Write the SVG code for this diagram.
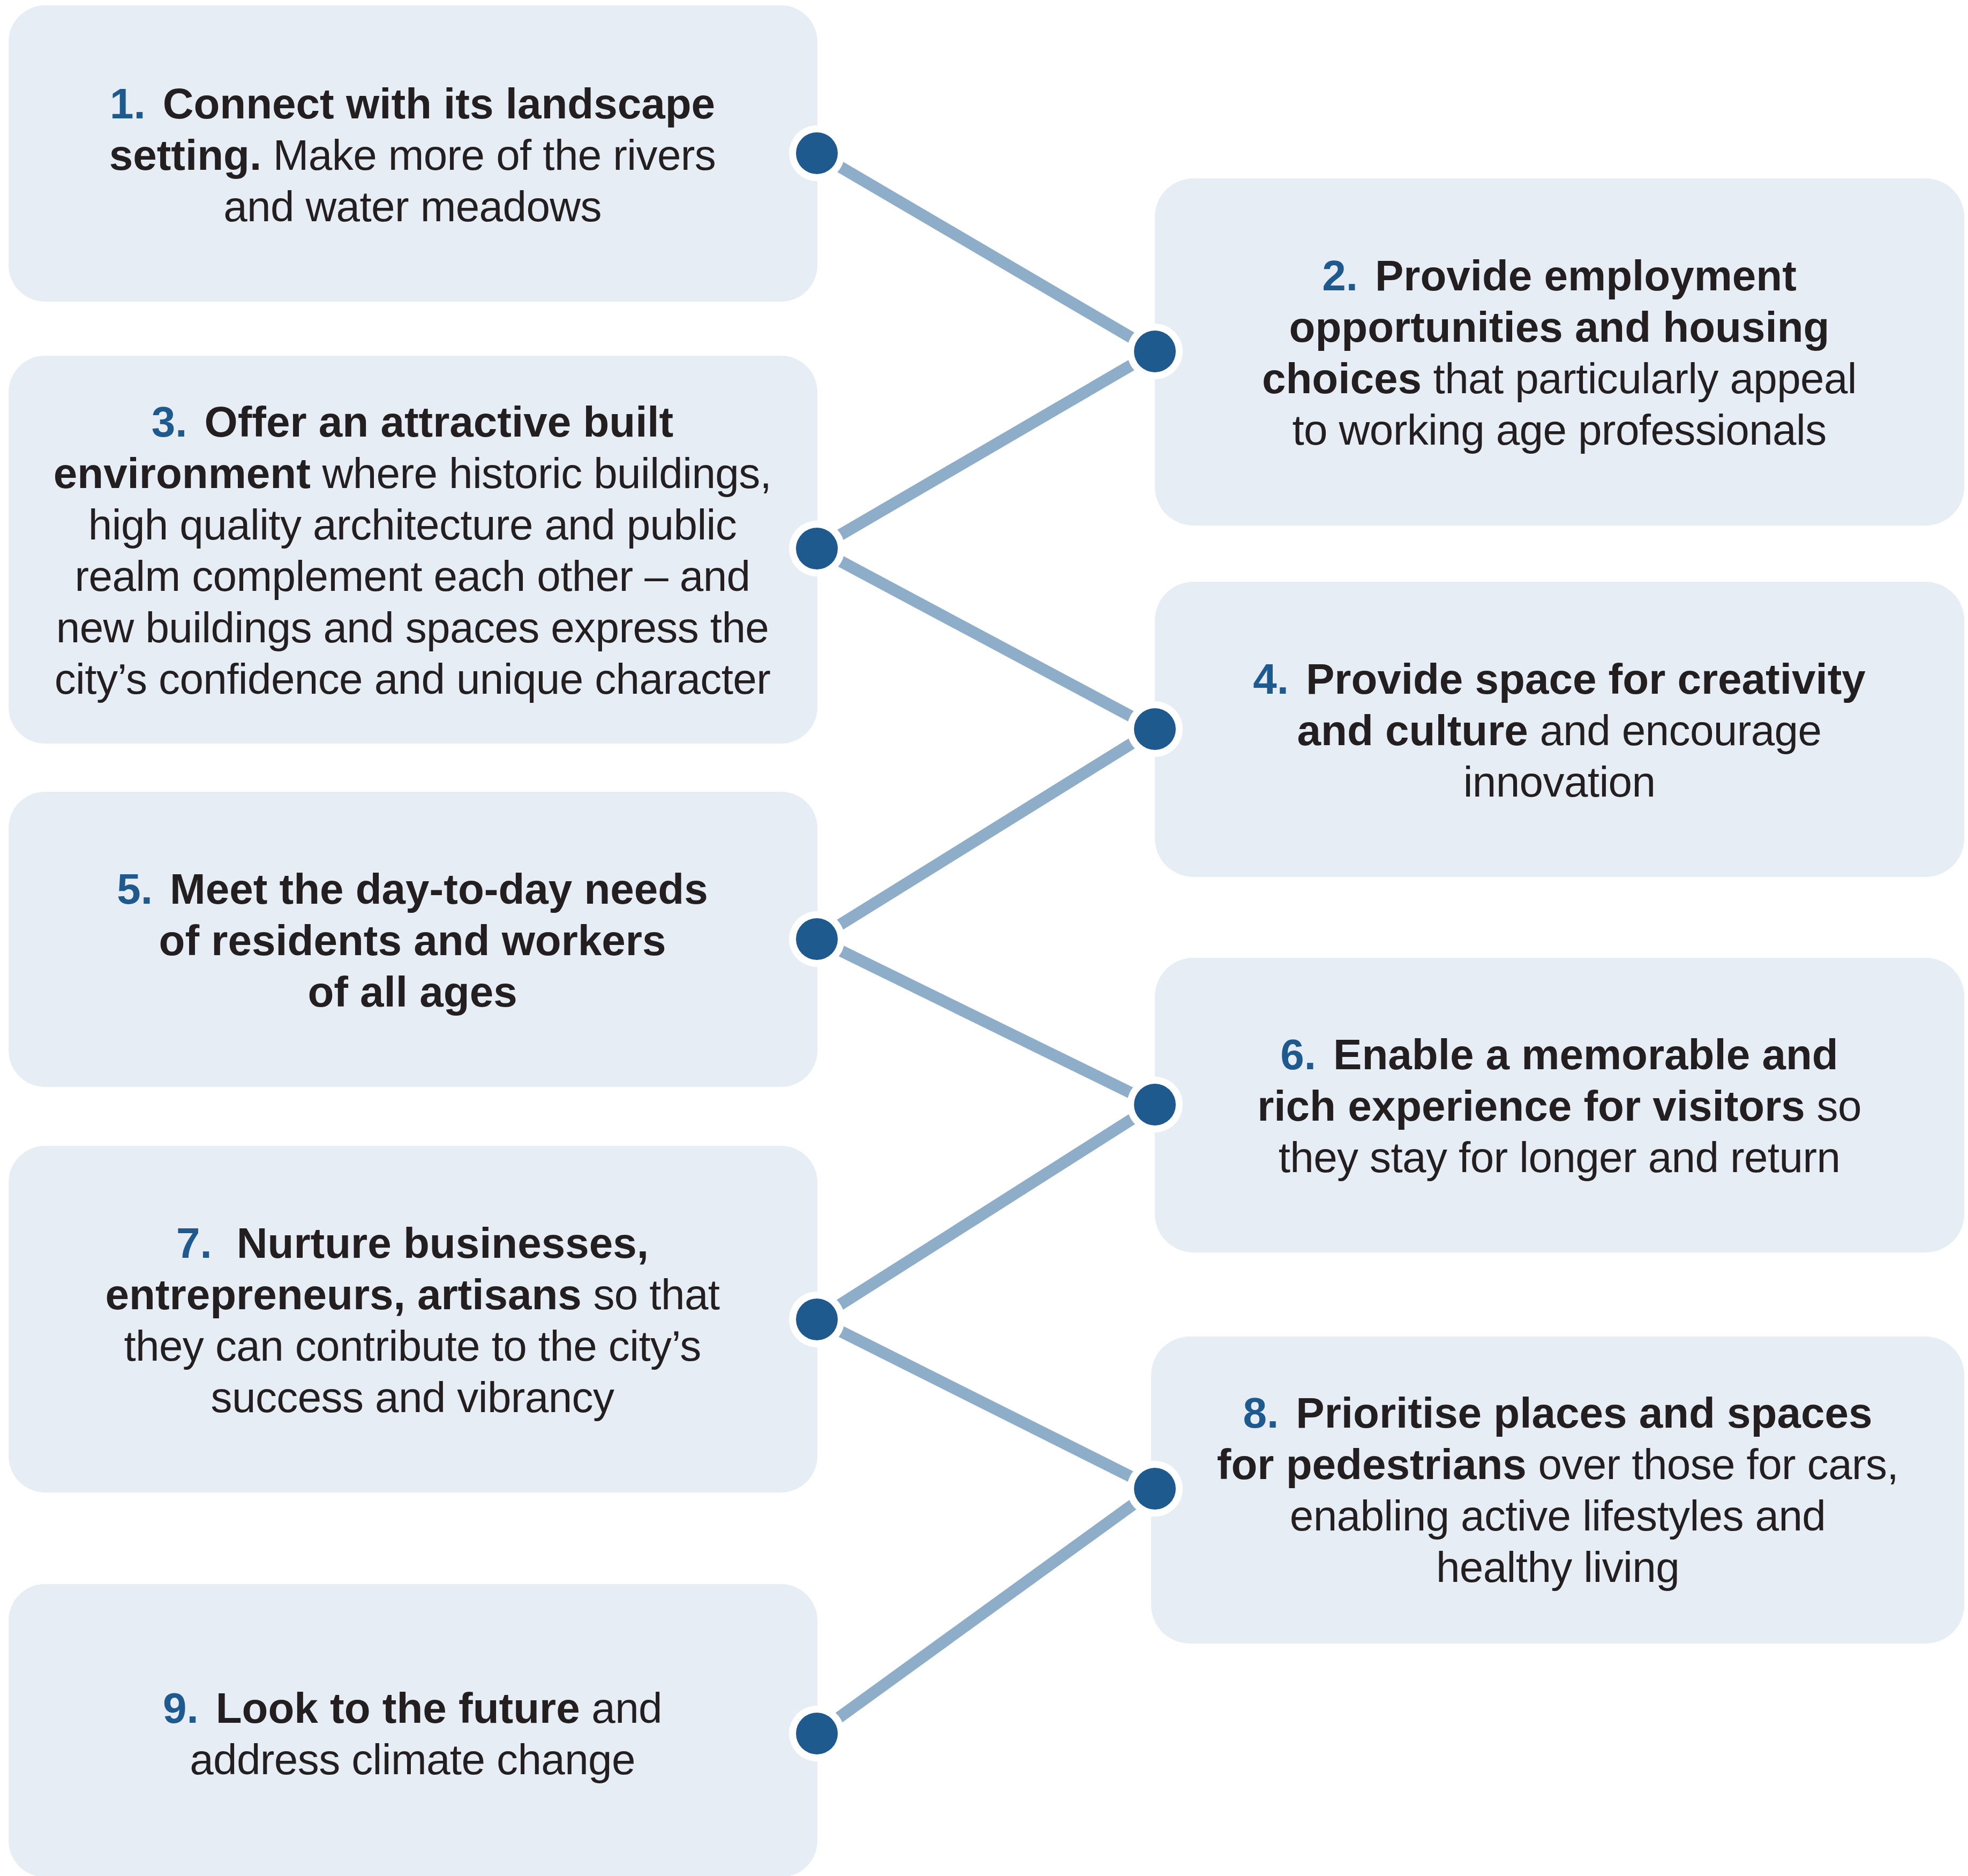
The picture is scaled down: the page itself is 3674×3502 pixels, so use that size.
<svg xmlns="http://www.w3.org/2000/svg" width="3674" height="3502" viewBox="0 0 3674 3502">
<style>
.box{fill:#e7edf4}
.t{font-family:"Liberation Sans",Arial,sans-serif;font-size:80px;fill:#231f20;text-anchor:middle;letter-spacing:-0.6px}
.b{font-weight:bold;letter-spacing:0}
.n{font-weight:bold;fill:#1f5a8f;letter-spacing:0}
.ring{fill:#ffffff}
.dot{fill:#1f5a8f}
.c{stroke:#8eadc9;stroke-width:22;fill:none}
</style>
<rect width="3674" height="3502" fill="#ffffff"/>
<g id="connectors">
<line class="c" x1="1525" y1="286" x2="2156" y2="656"/>
<line class="c" x1="2156" y1="656" x2="1525" y2="1024"/>
<line class="c" x1="1525" y1="1024" x2="2156" y2="1361"/>
<line class="c" x1="2156" y1="1361" x2="1525" y2="1753"/>
<line class="c" x1="1525" y1="1753" x2="2156" y2="2062"/>
<line class="c" x1="2156" y1="2062" x2="1525" y2="2463"/>
<line class="c" x1="1525" y1="2463" x2="2156" y2="2779"/>
<line class="c" x1="2156" y1="2779" x2="1525" y2="3236"/>
</g>
<g id="node1">
<rect class="box" x="16" y="10" width="1510" height="553" rx="68"/>
<circle class="ring" cx="1525" cy="286" r="52"/><circle class="dot" cx="1525" cy="286" r="39"/>
<text class="t" y="221" x="770"><tspan class="n">1.</tspan><tspan class="b" dx="32">Connect with its landscape</tspan></text>
<text class="t" y="317" x="770"><tspan class="b">setting.</tspan> Make more of the rivers</text>
<text class="t" y="413" x="770">and water meadows</text>
</g>
<g id="node2">
<rect class="box" x="2156" y="333" width="1511" height="648" rx="72"/>
<circle class="ring" cx="2156" cy="656" r="52"/><circle class="dot" cx="2156" cy="656" r="39"/>
<text class="t" y="542" x="2911"><tspan class="n">2.</tspan><tspan class="b" dx="32">Provide employment</tspan></text>
<text class="t b" y="638" x="2911">opportunities and housing</text>
<text class="t" y="734" x="2911"><tspan class="b">choices</tspan> that particularly appeal</text>
<text class="t" y="830" x="2911">to working age professionals</text>
</g>
<g id="node3">
<rect class="box" x="16" y="664" width="1510" height="724" rx="68"/>
<circle class="ring" cx="1525" cy="1024" r="52"/><circle class="dot" cx="1525" cy="1024" r="39"/>
<text class="t" y="815" x="770"><tspan class="n">3.</tspan><tspan class="b" dx="32">Offer an attractive built</tspan></text>
<text class="t" y="911" x="770"><tspan class="b">environment</tspan> where historic buildings,</text>
<text class="t" y="1007" x="770">high quality architecture and public</text>
<text class="t" y="1103" x="770">realm complement each other – and</text>
<text class="t" y="1199" x="770">new buildings and spaces express the</text>
<text class="t" y="1295" x="770">city’s confidence and unique character</text>
</g>
<g id="node4">
<rect class="box" x="2156" y="1086" width="1511" height="551" rx="72"/>
<circle class="ring" cx="2156" cy="1361" r="52"/><circle class="dot" cx="2156" cy="1361" r="39"/>
<text class="t" y="1295" x="2911"><tspan class="n">4.</tspan><tspan class="b" dx="32">Provide space for creativity</tspan></text>
<text class="t" y="1391" x="2911"><tspan class="b">and culture</tspan> and encourage</text>
<text class="t" y="1487" x="2911">innovation</text>
</g>
<g id="node5">
<rect class="box" x="16" y="1478" width="1510" height="551" rx="68"/>
<circle class="ring" cx="1525" cy="1753" r="52"/><circle class="dot" cx="1525" cy="1753" r="39"/>
<text class="t" y="1687" x="770"><tspan class="n">5.</tspan><tspan class="b" dx="32">Meet the day-to-day needs</tspan></text>
<text class="t b" y="1783" x="770">of residents and workers</text>
<text class="t b" y="1879" x="770">of all ages</text>
</g>
<g id="node6">
<rect class="box" x="2156" y="1788" width="1511" height="550" rx="72"/>
<circle class="ring" cx="2156" cy="2062" r="52"/><circle class="dot" cx="2156" cy="2062" r="39"/>
<text class="t" y="1996" x="2911"><tspan class="n">6.</tspan><tspan class="b" dx="32">Enable a memorable and</tspan></text>
<text class="t" y="2092" x="2911"><tspan class="b">rich experience for visitors</tspan> so</text>
<text class="t" y="2188" x="2911">they stay for longer and return</text>
</g>
<g id="node7">
<rect class="box" x="16" y="2139" width="1510" height="647" rx="68"/>
<circle class="ring" cx="1525" cy="2463" r="52"/><circle class="dot" cx="1525" cy="2463" r="39"/>
<text class="t" y="2348" x="770"><tspan class="n">7.</tspan><tspan class="b" dx="46">Nurture businesses,</tspan></text>
<text class="t" y="2444" x="770"><tspan class="b">entrepreneurs, artisans</tspan> so that</text>
<text class="t" y="2540" x="770">they can contribute to the city’s</text>
<text class="t" y="2636" x="770">success and vibrancy</text>
</g>
<g id="node8">
<rect class="box" x="2149" y="2495" width="1518" height="573" rx="72"/>
<circle class="ring" cx="2156" cy="2779" r="52"/><circle class="dot" cx="2156" cy="2779" r="39"/>
<text class="t" y="2665" x="2908"><tspan class="n">8.</tspan><tspan class="b" dx="32">Prioritise places and spaces</tspan></text>
<text class="t" y="2761" x="2908"><tspan class="b">for pedestrians</tspan> over those for cars,</text>
<text class="t" y="2857" x="2908">enabling active lifestyles and</text>
<text class="t" y="2953" x="2908">healthy living</text>
</g>
<g id="node9">
<rect class="box" x="16" y="2957" width="1510" height="547" rx="68"/>
<circle class="ring" cx="1525" cy="3236" r="52"/><circle class="dot" cx="1525" cy="3236" r="39"/>
<text class="t" y="3216" x="770"><tspan class="n">9.</tspan><tspan class="b" dx="32">Look to the future</tspan> and</text>
<text class="t" y="3312" x="770">address climate change</text>
</g>
</svg>
